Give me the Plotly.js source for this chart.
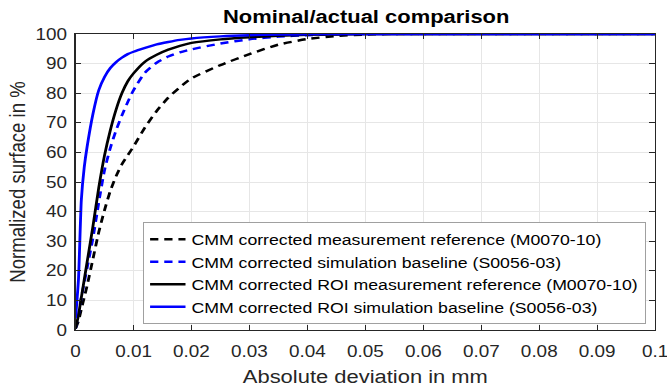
<!DOCTYPE html>
<html>
<head>
<meta charset="utf-8">
<script src="https://cdn.plot.ly/plotly-3.0.1.min.js"></script>
<style>
html,body{margin:0;padding:0;background:#fff;overflow:hidden;}
#wrap{width:667px;height:392px;}
#chart{width:565px;height:392px;transform:scaleX(1.1805);transform-origin:0 0;}
</style>
</head>
<body>
<div id="wrap"><div id="chart"></div></div>
<script>
const deviation = [0, 0.0005, 0.001, 0.0015, 0.002, 0.003, 0.004, 0.005, 0.006, 0.007, 0.008, 0.009, 0.01, 0.012, 0.014, 0.016, 0.018, 0.02, 0.025, 0.03, 0.035, 0.04, 0.045, 0.05, 0.055, 0.06, 0.07, 0.08, 0.09, 0.1];

const measRef = [0.5, 3, 7, 11, 15, 24, 33, 40.5, 47, 52, 56, 59, 62, 68.5, 74, 78.5, 82, 85, 89.5, 93.2, 96.4, 98.3, 99.3, 99.8, 100, 100, 100, 100, 100, 100];
const simBase = [0.5, 5, 11, 16, 21, 31, 43, 54, 61.5, 67.5, 72.5, 77, 81, 87, 90.3, 92.4, 93.8, 94.8, 96.8, 98.2, 99.1, 99.6, 99.9, 100, 100, 100, 100, 100, 100, 100];
const roiMeas = [0.5, 5, 11, 17, 23, 35, 48, 59, 67.5, 74.5, 80, 84, 86.7, 90.7, 93, 94.7, 96, 97, 98.2, 98.9, 99.4, 99.7, 99.85, 99.95, 100, 100, 100, 100, 100, 100];
const roiSim = [4, 17, 44, 55, 62, 73, 81, 85.5, 88.5, 90.5, 92, 93.2, 94, 95.3, 96.5, 97.3, 98, 98.5, 99.2, 99.6, 99.8, 99.9, 100, 100, 100, 100, 100, 100, 100, 100];

const names = [
  'CMM corrected measurement reference (M0070-10)',
  'CMM corrected simulation baseline (S0056-03)',
  'CMM corrected ROI measurement reference (M0070-10)',
  'CMM corrected ROI simulation baseline (S0056-03)'
];
const xTicks = [0, 0.01, 0.02, 0.03, 0.04, 0.05, 0.06, 0.07, 0.08, 0.09, 0.1];
const xTickText = ['0', '0.01', '0.02', '0.03', '0.04', '0.05', '0.06', '0.07', '0.08', '0.09', '0.1'];
const yTicks = [0, 10, 20, 30, 40, 50, 60, 70, 80, 90, 100];

const series = [measRef, simBase, roiMeas, roiSim];
const colors = ['#000000', '#0000ff', '#000000', '#0000ff'];
const dashes = ['7px,5px', '7px,5px', 'solid', 'solid'];

const traces = series.map((y, i) => ({
  x: deviation, y: y, type: 'scatter', mode: 'lines', name: names[i],
  line: {color: colors[i], width: 2.4, dash: dashes[i], shape: 'spline', smoothing: 0.6}
}));

const font = 'Arial, "Liberation Sans", Helvetica, sans-serif';
const layout = {
  width: 565, height: 392,
  margin: {l: 63.5, r: 10.2, t: 34, b: 62},
  paper_bgcolor: '#fff', plot_bgcolor: '#fff',
  font: {family: font, color: '#262626'},
  title: {text: '<b>Nominal/actual comparison</b>', font: {size: 18.6, color: '#000', family: font}, x: 0.549, xanchor: 'center', y: 0.959, yanchor: 'middle'},
  xaxis: {
    range: [0, 0.1], tickvals: xTicks, ticktext: xTickText,
    showgrid: true, gridcolor: '#e6e6e6', gridwidth: 1,
    showline: true, linecolor: '#262626', linewidth: 1, mirror: 'ticks',
    ticks: 'inside', ticklen: 5, tickcolor: '#262626', ticklabelstandoff: 7,
    ticklabeloverflow: 'allow',
    tickfont: {size: 16, color: '#262626'}, zeroline: false,
    title: {text: 'Absolute deviation in mm', font: {size: 18.6, color: '#262626'}, standoff: 10}
  },
  yaxis: {
    range: [0, 100], tickvals: yTicks,
    showgrid: true, gridcolor: '#e6e6e6', gridwidth: 1,
    showline: true, linecolor: '#262626', linewidth: 1, mirror: 'ticks',
    ticks: 'inside', ticklen: 5, tickcolor: '#262626', ticklabelstandoff: 3,
    tickfont: {size: 16, color: '#262626'}, zeroline: false,
    title: {text: 'Normalized surface in %', font: {size: 18.6, color: '#262626'}, standoff: 3}
  },
  legend: {
    x: 0.984, y: 0.365, xanchor: 'right', yanchor: 'top',
    bgcolor: '#fff', bordercolor: '#a0a0a0', borderwidth: 1,
    font: {size: 15, color: '#000'}, tracegroupgap: 0, itemwidth: 30
  },
  showlegend: true
};

Plotly.newPlot('chart', traces, layout, {displayModeBar: false, staticPlot: true});
</script>
</body>
</html>
